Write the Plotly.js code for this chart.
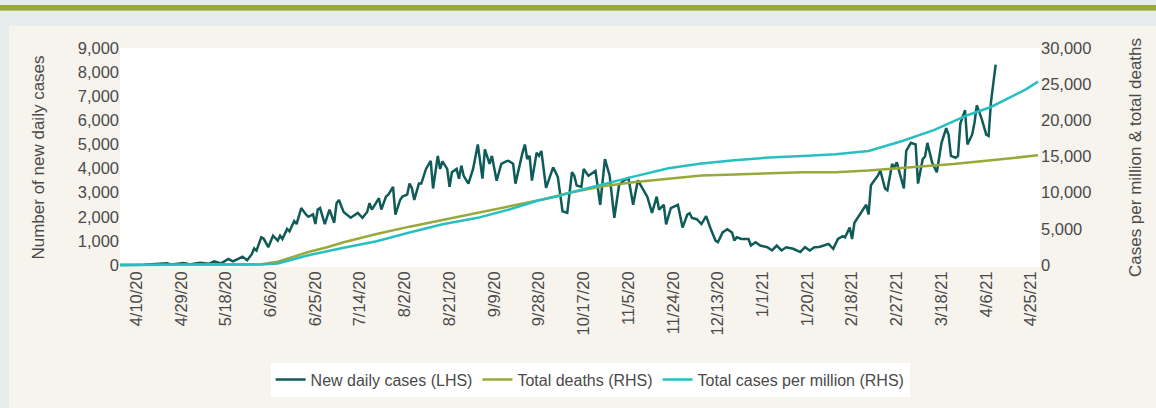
<!DOCTYPE html>
<html>
<head>
<meta charset="utf-8">
<script src="https://cdn.plot.ly/plotly-3.0.1.min.js"></script>
<style>
  html, body { margin:0; padding:0; width:1156px; height:408px; overflow:hidden; background:#e7eded; }
  #band { position:absolute; left:0; top:5px; width:1156px; height:5px; background:#9aa83a; border-bottom:1px solid #b9c46e; }
  #panel { position:absolute; left:9px; top:26px; width:1147px; height:382px; background:#f7f3ed; }
  #chart { width:1147px; height:382px; }
</style>
</head>
<body>
<div id="band"></div>
<div id="panel"><div id="chart"></div></div>
<script>
// Series start date; offsets are days after this date
const startDate = '2020-04-03';

// New daily cases (LHS)
const caseDays = [0,10,20,22,27,30,34,38,40,43,46,48,50,52,54,56,57,58,60,61,63,65,67,68,69,71,72,74,75,77,79,80,82,83,84,85,87,89,91,92,93,95,98,101,103,105,106,107,110,111,113,114,116,117,119,120,122,123,124,125,127,128,130,132,133,135,136,137,139,140,141,143,144,145,146,148,150,152,154,155,157,158,160,162,164,165,167,168,171,172,173,174,175,177,178,179,181,184,186,188,190,192,193,194,196,197,199,202,204,206,208,210,212,214,216,218,220,222,224,226,228,229,231,232,234,237,239,241,242,243,245,247,249,251,253,254,256,258,260,261,262,264,267,268,270,272,275,277,279,281,283,286,289,291,293,295,297,299,301,303,305,307,308,310,311,312,315,317,318,319,322,323,325,326,328,329,330,332,333,334,336,338,339,341,342,343,345,347,349,351,352,353,355,356,357,359,360,362,363,364,366,368,369,370,372];
const newCases = [0,10,80,20,90,30,100,60,150,70,250,150,250,350,200,450,690,600,1150,1100,740,1216,1013,1216,1080,1500,1400,1824,1700,2365,2100,2000,2100,1700,2300,2365,1700,2300,1756,2568,2700,2200,1960,2162,1960,2200,2568,2300,2770,2300,2838,2919,3243,2095,2700,2838,2919,3378,3200,2700,3378,3378,3986,4324,3176,4527,3986,4300,3986,3243,3851,3986,3581,4122,3700,3378,3986,5000,3581,4797,4200,4527,3500,4200,4300,4324,4200,3378,4662,5000,4400,4527,3500,4662,4527,4730,3200,4054,3649,2230,2162,3851,3700,3300,3243,3986,3700,3900,2500,4392,3716,1960,3311,3500,3600,2500,3513,3200,2838,2162,2838,2297,2500,1689,2365,2500,1554,2095,2150,1950,1900,1700,2027,1487,1013,946,1352,1487,1350,1013,1149,1080,1080,811,946,811,740,608,811,608,740,676,541,743,608,743,750,811,878,676,1081,1200,1150,1554,1081,1756,2230,2500,2095,3311,3716,3919,3176,3100,4189,4050,4257,3600,3176,4730,5068,5000,3378,4392,4500,5068,4250,3851,5068,5676,5400,4527,4450,4527,5878,6419,5000,5405,5900,6622,6081,5405,5350,6757,8311];

// Total deaths (RHS)
const deathDays = [0,53,60,67,80,88,95,109,123,137,152,166,180,191,205,219,233,247,261,276,290,304,318,336,354,368,390];
const totalDeaths = [0,0,100,450,1797,2472,3148,4283,5310,6215,7200,8106,9100,10000,10900,11484,11929,12389,12524,12700,12835,12835,13064,13510,13956,14415,15172];

// Total cases per million (RHS)
const cpmDays = [0,55,62,67,80,94,109,123,137,152,166,178,186,191,205,219,233,247,261,276,290,304,318,332,346,360,370,377,385,390];
const casesPerMillion = [0,0,100,230,1351,2337,3283,4500,5634,6526,7742,8950,9500,10000,11172,12294,13375,14050,14500,14861,15090,15316,15766,17117,18689,20711,21847,22967,24318,25358];

// X-axis tick labels (as printed on the chart) and their dates
const tickDates = ['2020-04-10','2020-04-29','2020-05-18','2020-06-06','2020-06-25','2020-07-14','2020-08-02','2020-08-21','2020-09-09','2020-09-28','2020-10-17','2020-11-05','2020-11-24','2020-12-13','2021-01-01','2021-01-20','2021-02-08','2021-02-27','2021-03-18','2021-04-06','2021-04-25'];
const tickLabels = ['4/10/20','4/29/20','5/18/20','6/6/20','6/25/20','7/14/20','8/2/20','8/21/20','9/9/20','9/28/20','10/17/20','11/5/20','11/24/20','12/13/20','1/1/21','1/20/21','2/18/21','2/27/21','3/18/21','4/6/21','4/25/21'];

const base = Date.parse(startDate + 'T00:00:00Z');
const toDate = d => new Date(base + d * 864e5).toISOString().slice(0, 10);

const FONT = 'Liberation Sans, Arial, sans-serif';
const TXT = '#4a4a4a';

const traces = [
  { x: deathDays.map(toDate), y: totalDeaths, yaxis: 'y2', type: 'scatter', mode: 'lines',
    name: 'Total deaths (RHS)', legendrank: 2, line: { color: '#9aa83a', width: 2.5 } },
  { x: cpmDays.map(toDate), y: casesPerMillion, yaxis: 'y2', type: 'scatter', mode: 'lines',
    name: 'Total cases per million (RHS)', legendrank: 3, line: { color: '#27bfbf', width: 2.5 } },
  { x: caseDays.map(toDate), y: newCases, type: 'scatter', mode: 'lines',
    name: 'New daily cases (LHS)', legendrank: 1, line: { color: '#0e5b58', width: 2.5 } }
];

const layout = {
  width: 1147, height: 382,
  margin: { l: 111, r: 116, t: 22, b: 136 },
  paper_bgcolor: '#f7f3ed', plot_bgcolor: '#ffffff',
  font: { family: FONT, size: 16, color: TXT },
  showlegend: true,
  legend: { orientation: 'h', x: 0.511, xanchor: 'center', y: -0.437, yanchor: 'top',
            bgcolor: '#ffffff', font: { family: FONT, size: 16, color: TXT }, itemwidth: 30 },
  xaxis: {
    type: 'date', range: ['2020-04-03 00:00', '2021-04-28 20:00'],
    tickmode: 'array', tickvals: tickDates, ticktext: tickLabels, tickangle: -90,
    showgrid: false, zeroline: false, showline: false, ticks: '',
    tickfont: { family: FONT, size: 16.5, color: TXT }
  },
  yaxis: {
    range: [-80, 9000], dtick: 1000, tick0: 0, tickformat: ',d',
    showgrid: false, zeroline: false, showline: false, ticks: '',
    tickfont: { family: FONT, size: 16.5, color: TXT },
    title: { text: 'Number of new daily cases', font: { family: FONT, size: 17, color: TXT }, standoff: 28 }
  },
  yaxis2: {
    overlaying: 'y', side: 'right',
    range: [-267, 30000], dtick: 5000, tick0: 0, tickformat: ',d',
    showgrid: false, zeroline: false, showline: false, ticks: '',
    tickfont: { family: FONT, size: 16.5, color: TXT },
    title: { text: 'Cases per million & total deaths', font: { family: FONT, size: 17, color: TXT }, standoff: 38 }
  }
};

Plotly.newPlot('chart', traces, layout, { displayModeBar: false, staticPlot: true });
</script>
</body>
</html>
